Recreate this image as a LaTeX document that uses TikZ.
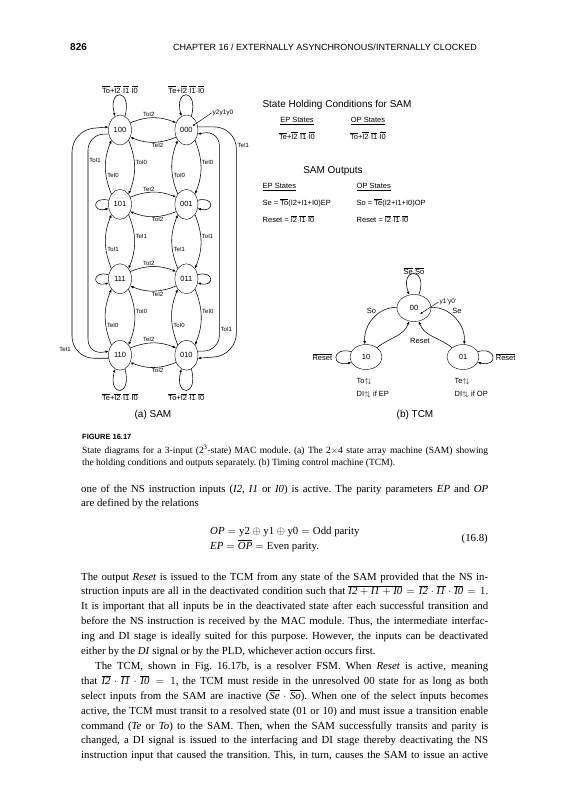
\documentclass[tikz,border=0pt]{standalone}
\usepackage{fontspec}
\setmainfont{Liberation Serif}
\setsansfont{Liberation Sans}
\usetikzlibrary{positioning,arrows.meta,shapes.geometric,calc}
\frenchspacing

\newcommand{\ol}[1]{$\overline{\mbox{#1}}$}
\newcommand{\ud}{$\uparrow\!\downarrow$}
\newcommand{\ti}[1]{\mbox{\itshape #1}}
\newcommand{\jl}[2][407pt]{\makebox[#1][s]{#2}}

\begin{document}
\begin{tikzpicture}[x=1pt, y=-1pt, node distance=44pt and 43pt,
  st/.style={draw, ellipse, minimum width=23pt, minimum height=30pt, inner sep=0pt, font=\sffamily\fontsize{7.5}{8}\selectfont},
  ts/.style={draw, ellipse, minimum width=34pt, minimum height=27pt, inner sep=0pt, font=\sffamily\fontsize{7.5}{8}\selectfont},
  ts2/.style={ts, minimum width=32pt, minimum height=25pt},
  tr/.style={-{Latex[length=3.2pt,width=2.6pt]}, line width=0.55pt},
  ptr/.style={-{Latex[length=2.6pt,width=2pt]}, line width=0.45pt},
  elab/.style={font=\sffamily\fontsize{6}{7}\selectfont, inner sep=1pt},
  hc/.style={font=\sffamily\fontsize{7.5}{8}\selectfont, inner sep=0.5pt},
  ttl/.style={font=\sffamily\fontsize{10}{11}\selectfont, inner sep=0pt},
  body/.style={font=\rmfamily\fontsize{10.8}{14.9}\selectfont, align=justify, text width=407pt, inner sep=0pt, anchor=base west},
  captxt/.style={font=\rmfamily\fontsize{9.5}{12}\selectfont, align=justify, text width=406pt, inner sep=0pt, anchor=base west},
  eqn/.style={font=\rmfamily\fontsize{10.8}{12}\selectfont, inner sep=0pt, anchor=base west},
  lpt/.style={out=75, in=105, looseness=7.5},
  lpb/.style={out=-75, in=-105, looseness=7.5},
  lpl/.style={out=165, in=195, looseness=5.5},
  lpr/.style={out=15, in=-15, looseness=5.5}]
\fill[white] (0,0) rectangle (587,800);
\useasboundingbox (0,0) rectangle (587,800);

% running head
\node[anchor=base west, font=\sffamily\bfseries\fontsize{10}{12}\selectfont, inner sep=0pt] (pg) at (70,51) {826};
\node[anchor=base, font=\sffamily\fontsize{9}{11}\selectfont, inner sep=0pt] (hd) at (325,51) {CHAPTER 16 / EXTERNALLY ASYNCHRONOUS/INTERNALLY CLOCKED};

% (a) SAM
\node[st] (n100) at (120,130) {100};
\node[st, right=of n100] (n000) {000};
\node[st, below=of n100] (n101) {101};
\node[st, below=of n000] (n001) {001};
\node[st, below=of n101] (n111) {111};
\node[st, below=of n001] (n011) {011};
\node[st, below=46pt of n111] (n110) {110};
\node[st, below=46pt of n011] (n010) {010};

\foreach \xa/\xb/\lu/\ld in {n100/n000/ToI2/TeI2, n101/n001/TeI2/ToI2, n111/n011/ToI2/TeI2, n110/n010/TeI2/ToI2}{
  \draw[tr] (\xa.35) to[bend left=22] node[elab, above, pos=0.4] {\lu} (\xb.145);
  \draw[tr] (\xb.-145) to[bend left=22] node[elab, below, pos=0.4] {\ld} (\xa.-35);
}
\foreach \xa/\xb/\lbr/\lbi in {n100/n101/ToI0/TeI0, n000/n001/TeI0/ToI0, n101/n111/TeI1/ToI1, n001/n011/ToI1/TeI1, n111/n110/ToI0/TeI0, n011/n010/TeI0/ToI0}{
  \draw[tr] (\xa.-50) to[bend left=22] node[elab, right, pos=0.4] {\lbr} (\xb.50);
  \draw[tr] (\xb.130) to[bend left=22] node[elab, right, pos=0.35] {\lbi} (\xa.-130);
}

% holding loops
\draw[tr] (n100.70) to[lpt] (n100.110);
\draw[tr] (n000.70) to[lpt] (n000.110);
\draw[tr] (n101.160) to[lpl] (n101.200);
\draw[tr] (n111.160) to[lpl] (n111.200);
\draw[tr] (n001.20) to[lpr] (n001.-20);
\draw[tr] (n011.20) to[lpr] (n011.-20);
\draw[tr] (n110.-70) to[lpb] (n110.-110);
\draw[tr] (n010.-70) to[lpb] (n010.-110);

% outer rails
\draw[tr, rounded corners=22pt] (n110.195) -| node[elab, pos=0.52, left] {TeI1} ([xshift=-48pt]n100.center) -- (n100.165);
\draw[tr, rounded corners=16pt] (n100.200) -| node[elab, pos=0.56, right] {ToI1} ([xshift=-32pt]n110.center) -- (n110.160);
\draw[tr, rounded corners=22pt] (n000.15) -| node[elab, pos=0.54, right] {TeI1} ([xshift=50pt]n010.center) -- (n010.-15);
\draw[tr, rounded corners=16pt] (n010.20) -| node[elab, pos=0.55, right] {ToI1} ([xshift=33pt]n000.center) -- (n000.-20);

\node[hc, above=21pt of n100] (h100) {\ol{To}+\ol{I2}$\cdot$\ol{I1}$\cdot$\ol{I0}};
\node[hc, above=21pt of n000] (h000) {\ol{Te}+\ol{I2}$\cdot$\ol{I1}$\cdot$\ol{I0}};
\node[hc, below=22pt of n110] (h110) {\ol{Te}+\ol{I2}$\cdot$\ol{I1}$\cdot$\ol{I0}};
\node[hc, below=22pt of n010] (h010) {\ol{To}+\ol{I2}$\cdot$\ol{I1}$\cdot$\ol{I0}};

\node[elab, font=\sffamily\fontsize{6.5}{7}\selectfont] (yyy) at (223,113) {y2y1y0};
\draw[ptr] (yyy.west) -- ([xshift=6pt,yshift=4pt]n000.center);

\node[ttl] (sama) at (153,415) {(a) SAM};

% holding conditions and outputs
\node[ttl] (shc) at (337,105) {State Holding Conditions for SAM};
\node[hc] (ep1) at (297,121) {\underline{EP States}};
\node[hc] (op1) at (368,121) {\underline{OP States}};
\node[hc, below=6pt of ep1] (epc) {\ol{Te}+\ol{I2}$\cdot$\ol{I1}$\cdot$\ol{I0}};
\node[hc, below=6pt of op1] (opc) {\ol{To}+\ol{I2}$\cdot$\ol{I1}$\cdot$\ol{I0}};
\node[ttl] (sao) at (333,171) {SAM Outputs};
\node[hc, anchor=west] (ep2) at (262,187) {\underline{EP States}};
\node[hc, anchor=west] (op2) at (356,187) {\underline{OP States}};
\node[hc, anchor=west] (se) at (262,203) {Se = \ol{To}(I2+I1+I0)EP};
\node[hc, anchor=west] (so) at (356,203) {So = \ol{Te}(I2+I1+I0)OP};
\node[hc, anchor=west] (rs1) at (262,219) {Reset = \ol{I2}$\cdot$\ol{I1}$\cdot$\ol{I0}};
\node[hc, anchor=west] (rs2) at (356,219) {Reset = \ol{I2}$\cdot$\ol{I1}$\cdot$\ol{I0}};

% (b) TCM
\node[ts] (t00) at (414,308) {00};
\node[ts2] (t10) at (366,357) {10};
\node[ts2] (t01) at (463,357) {01};
\draw[tr] (t00.178) to[out=178,in=95] node[hc, above left, pos=0.4] {So} (t10.95);
\draw[tr] (t10.40) to[out=40,in=-110] (t00.-110);
\draw[tr] (t00.2) to[out=2,in=85] node[hc, above right, pos=0.4] {Se} (t01.85);
\draw[tr] (t01.140) to[out=140,in=-70] (t00.-70);
\node[hc] (trs) at ([xshift=6pt,yshift=-33pt]t00.center) {Reset};
\draw[tr] (t00.70) to[out=70,in=110,looseness=8] (t00.110);
\draw[tr] (t10.160) to[out=165,in=195,looseness=5] (t10.200);
\draw[tr] (t01.20) to[out=15,in=-15,looseness=5] (t01.-20);
\node[hc, above=19pt of t00] (tss) {\ol{Se}$\cdot$\ol{So}};
\node[hc, left=17pt of t10] (nr10) {\ol{Reset}};
\node[hc, right=16pt of t01] (nr01) {\ol{Reset}};
\node[elab, font=\sffamily\fontsize{6.5}{7}\selectfont] (yy) at (448,302) {y1'y0'};
\draw[ptr] (yy.west) -- ([xshift=6pt,yshift=-6pt]t00.center);
\node[hc, anchor=base west] (o10a) at (356,383) {To\ud};
\node[hc, anchor=base west] (o10b) at (356,396) {DI\ud{} if EP};
\node[hc, anchor=base west] (o01a) at (454,383) {Te\ud};
\node[hc, anchor=base west] (o01b) at (454,396) {DI\ud{} if OP};
\node[ttl] (tcmb) at (415,415) {(b) TCM};

% caption
\node[anchor=base west, font=\sffamily\bfseries\fontsize{7.5}{9}\selectfont, inner sep=0pt] (fig) at (82,439) {FIGURE 16.17};
\node[captxt] (capt) at (82,453) {\jl[406pt]{State diagrams for a 3-input (2\textsuperscript{3}-state) MAC module. (a) The 2$\times$4 state array machine (SAM) showing}\\
the holding conditions and outputs separately. (b) Timing control machine (TCM).};

% text
\node[body] (par1) at (81,492) {\jl{one of the NS instruction inputs (\textit{I2}, \textit{I1} or \textit{I0}) is active. The parity parameters \textit{EP} and \textit{OP}}\\
are defined by the relations};
\node[eqn] (eq1) at (210,534) {$\ti{OP} = \mbox{y2}\oplus\mbox{y1}\oplus\mbox{y0} = \mbox{Odd parity}$};
\node[eqn] (eq2) at (210,549) {$\ti{EP} = \overline{\ti{OP}} = \mbox{Even parity.}$};
\node[eqn, anchor=base east] (eqno) at (488,541) {(16.8)};
\node[body] (par2) at (81,580) {\jl{The output \textit{Reset} is issued to the TCM from any state of the SAM provided that the NS in-}\\
\jl{struction inputs are all in the deactivated condition such that $\overline{\ti{I2}+\ti{I1}+\ti{I0}}=\overline{\ti{I2}}\cdot\overline{\ti{I1}}\cdot\overline{\ti{I0}}=1$.}\\
\jl{It is important that all inputs be in the deactivated state after each successful transition and}\\
\jl{before the NS instruction is received by the MAC module. Thus, the intermediate interfac-}\\
\jl{ing and DI stage is ideally suited for this purpose. However, the inputs can be deactivated}\\
either by the \textit{DI} signal or by the PLD, whichever action occurs first.};
\node[body] (par3) at (81,669.4) {\jl{\hspace*{14pt}The TCM, shown in Fig. 16.17b, is a resolver FSM. When \textit{Reset} is active, meaning}\\
\jl{that $\overline{\ti{I2}}\cdot\overline{\ti{I1}}\cdot\overline{\ti{I0}}=1$, the TCM must reside in the unresolved 00 state for as long as both}\\
\jl{select inputs from the SAM are inactive ($\overline{\ti{Se}}\cdot\overline{\ti{So}}$). When one of the select inputs becomes}\\
\jl{active, the TCM must transit to a resolved state (01 or 10) and must issue a transition enable}\\
\jl{command (\textit{Te} or \textit{To}) to the SAM. Then, when the SAM successfully transits and parity is}\\
\jl{changed, a DI signal is issued to the interfacing and DI stage thereby deactivating the NS}\\
\jl{instruction input that caused the transition. This, in turn, causes the SAM to issue an active}};
\end{tikzpicture}
\end{document}
